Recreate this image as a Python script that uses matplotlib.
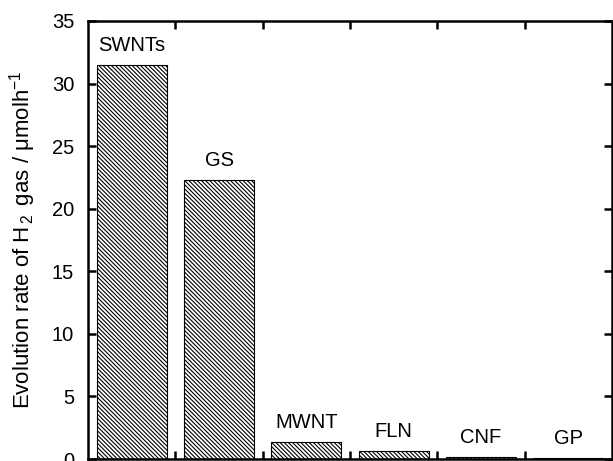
import matplotlib
matplotlib.use("Agg")
import matplotlib.pyplot as plt
import numpy as np

categories = ["SWNTs", "GS", "MWNT", "FLN", "CNF", "GP"]
values = [31.5, 22.3, 1.35, 0.65, 0.15, 0.08]
yticks = [0, 5, 10, 15, 20, 25, 30, 35]

plt.rcParams['font.family'] = ['Liberation Sans', 'DejaVu Sans']
plt.rcParams['mathtext.fontset'] = 'custom'
plt.rcParams['mathtext.rm'] = 'Liberation Sans'
plt.rcParams['mathtext.it'] = 'Liberation Sans:italic'
plt.rcParams['mathtext.bf'] = 'Liberation Sans:bold'
plt.rcParams['hatch.linewidth'] = 0.8

fig = plt.figure(figsize=(6.13, 4.61), dpi=100)
ax = fig.add_axes([88/613, 2/461, 524/613, 438/461])

x = np.arange(len(categories))
bars = ax.bar(x, values, width=0.8, color='white', edgecolor='black',
              hatch='\\' * 8, linewidth=0.8)
for xi, v, name in zip(x, values, categories):
    ax.text(xi, v + 0.8, name, ha='center', va='bottom', fontsize=14.5)

ax.set_xlim(-0.5, len(categories) - 0.5)
ax.set_ylim(0, 35)
ax.set_yticks(yticks)
ax.set_xticks(np.arange(0.5, len(categories) - 0.5, 1.0))
ax.set_xticklabels([])
ax.tick_params(axis='both', direction='in', length=6, width=1.8,
               top=True, right=True, labelsize=14.5)
ax.tick_params(axis='y', pad=10)
for s in ax.spines.values():
    s.set_linewidth(1.8)
ax.set_ylabel("Evolution rate of H$\\mathregular{_{\\,2}\\,}$ gas / \u03bcmolh$\\mathregular{^{-1}}$", fontsize=16)
ax.yaxis.set_label_coords(-0.095, 0.5)

fig.savefig("out.png", dpi=100)
